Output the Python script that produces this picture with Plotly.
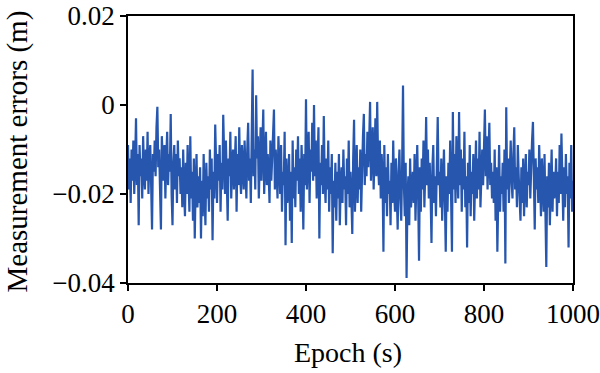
import plotly.graph_objects as go

# Epochs (s), sampled every 2 s
epochs = list(range(0, 1001, 2))

errors_mm = [
    -9, -19, -12, -22, -10, -17, -8, -20, -13, -3,
    -18, -11, -27, -9, -16, -12, -21, -7, -15, -19,
    -10, -17, -6, -20, -12, -9, -18, -28, -11, -15,
    -8, -16, -5, -0.4, -14, -10, -19, -28, -7, -13,
    -17, -9, -21, -12, -6, -18, -11, -15, -2, -20,
    -27, -13, -9, -19, -11, -22, -8, -16, -12, -20,
    -14, -23, -10, -19, -25, -13, -20, -9, -17, -24,
    -7, -21, -15, -26, -12, -30, -18, -11, -23, -16,
    -22, -14, -30, -17, -25, -11, -20, -27, -13, -21,
    -16, -24, -10, -19, -12, -30.4, -15, -21, -4.4, -18,
    -22, -11, -17, -9, -24, -13, -19, -2.2, -15, -20,
    -8, -18, -26, -12, -16, -6, -21, -13, -10, -19,
    -14, -7, -24, -11, -18, -5, -16, -20, -9, -13,
    -19, -8, -15, -21, -10, -4, -17, -12, -22, -9,
    8, -16, -10, -19, 2.2, -12, -7, -21, -11, -5,
    -17, -9, -1, -20, -13, -6, -18, -11, -15, -22,
    -8, -17, -12, -4, -1, -19, -10, -15, -21, -7,
    -13, -20, -9, -24, -15, -18, -6, -31.5, -12, -22,
    -19, -11, -26, -15, -31, -8, -21, -14, -23, -10,
    -17, -7, -20, -12, -24, -9, -16, -28, -11, -18,
    1.3, -19, -12, -6, -22, -10, -15, -4, -17, 0,
    -16, -8, -21, -11, -5, -30, -13, -18, -9, -20,
    -2.5, -17, -22, -12, -19, -8, -24, -14, -20, -11,
    -33.3, -17, -23, -13, -26, -15, -21, -11, -27, -18,
    -14, -22, -10, -19, -16, -27, -12, -20, -8, -23,
    -15, -21, -29, -12, -3.3, -24, -17, -9, -22, -14,
    -19, -10, -24, -13, -7, -2, -18, -11, -16, -6,
    -14, -8, 0.7, -17, -10, -5, -19, -12, -3, -16,
    0.7, -13, -18, -8, -21, -11, -16, -33, -9, -22,
    -14, -25, -11, -20, -17, -27, -13, -22, -8, -19,
    -24, -12, -19, -28, -15, -10, -21, -26, -14, 4.4,
    -18, -25, -13, -38.9, -21, -16, -27, -12, -23, -19,
    -15, -22, -11, -26, -17, -9, -20, -35, -14, -24,
    -12, -19, -8, -23, -15, -2.7, -18, -10, -21, -13,
    -20, -31, -14, -9, -22, -16, -25, -11, -2.7, -18,
    -15, -23, -12, -26, -18, -10, -21, -33, -16, -24,
    -13, -20, -8, -17, -33, -1.6, -19, -11, -22, -7,
    -14, -21, -1.6, -18, -10, -24, -12, -19, -6, -23,
    -16, -32, -13, -22, -9, -25, -15, -20, -11, -26,
    -17, -8, -21, -12, -19, -6, -23, -14, -10, -18,
    -9, -1, -16, -7, -19, -11, -4, -18, -13, -21,
    -15, -22, -10, -26, -14, -33, -18, -9, -24, -16,
    -20, -13, -24, -10, -35.6, -0.5, -19, -12, -22, -15,
    -8, -17, -21, -11, -5, -19, -14, -23, -9, -16,
    -20, -26, -14, -22, -12, -25, -17, -11, -23, -15,
    -18, -10, -21, -13, -8, -3.8, -16, -28, -12, -19,
    -14, -22, -9, -20, -25, -12, -18, -24, -11, -21,
    -36.4, -16, -23, -13, -27, -18, -10, -24, -15, -21,
    -19, -12, -25, -15, -22, -9, -20, -6.4, -17, -26,
    -14, -23, -11, -20, -16, -32, -13, -21, -9, -24,
    -17,
]
errors_m = [v / 1000.0 for v in errors_mm]

x_ticks = [0, 200, 400, 600, 800, 1000]
y_ticks = [0.02, 0, -0.02, -0.04]
y_tick_labels = ["0.02", "0", "\u22120.02", "\u22120.04"]
x_title = "Epoch (s)"
y_title = "Measurement errors (m)"

font_family = "Liberation Serif, Times New Roman, serif"

fig = go.Figure()
fig.add_trace(go.Scatter(
    x=epochs, y=errors_m, mode="lines",
    line=dict(color="#2656AE", width=2.2),
    showlegend=False,
))

fig.update_layout(
    width=600, height=373,
    margin=dict(l=128, r=27, t=16, b=90),
    paper_bgcolor="white", plot_bgcolor="white",
    font=dict(family=font_family, size=27, color="black"),
    annotations=[
        dict(text=x_title, xref="paper", yref="paper", x=0.5, y=0,
             xanchor="center", yanchor="middle", xshift=-3, yshift=-69,
             showarrow=False, font=dict(size=28)),
        dict(text=y_title, xref="paper", yref="paper", x=0, y=0.5,
             xanchor="center", yanchor="middle", xshift=-111, yshift=-2,
             textangle=-90, showarrow=False, font=dict(size=29)),
    ],
)
fig.update_xaxes(
    range=[0, 1000], tickvals=x_ticks, automargin=False, ticklabeloverflow="allow",
    showline=True, linecolor="black", linewidth=1.5, mirror=True,
    ticks="outside", ticklen=6, tickcolor="black", tickwidth=1.5,
    showgrid=False, zeroline=False,
    tickfont=dict(size=27),
)
fig.update_yaxes(
    range=[-0.04, 0.02], tickvals=y_ticks, ticktext=y_tick_labels, automargin=False,
    ticklabeloverflow="allow",
    showline=True, linecolor="black", linewidth=1.5, mirror=True,
    ticks="outside", ticklen=6, tickcolor="black", tickwidth=1.5,
    showgrid=False, zeroline=False,
    tickfont=dict(size=27),
)

fig.write_html("out.html", config={"displayModeBar": False},
               post_script="document.body.style.margin='0';")
